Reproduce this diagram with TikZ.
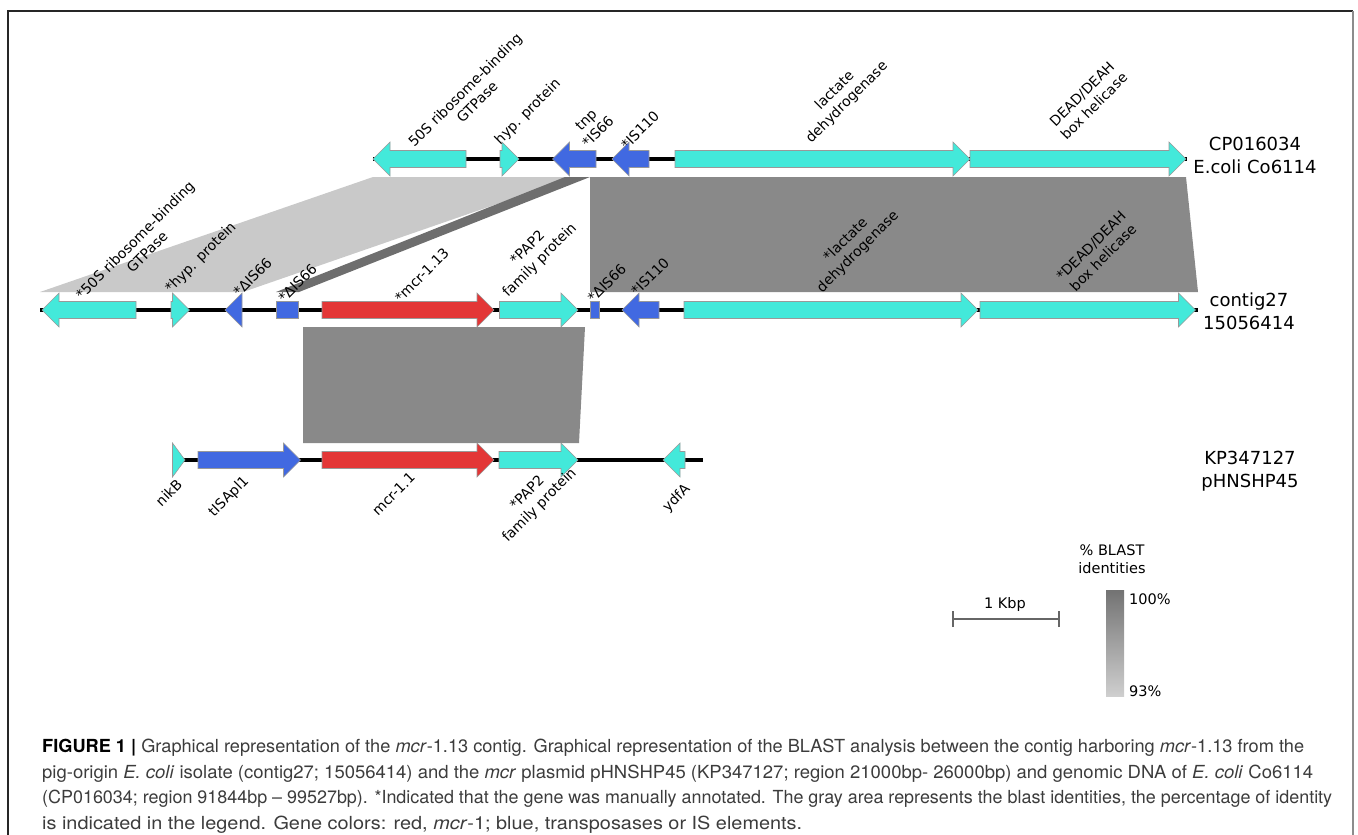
\documentclass[tikz,border=0pt]{standalone}
\usepackage{fontspec}
\usepackage{graphicx}
\newfontfamily\dv{DejaVu Sans}
\newfontfamily\capf{TeX Gyre Heros}
\definecolor{turq}{RGB}{67,233,218}
\definecolor{gblue}{RGB}{65,105,225}
\definecolor{gred}{RGB}{227,54,54}
\definecolor{glight}{RGB}{201,201,201}
\definecolor{gdark}{RGB}{110,110,110}
\definecolor{gmid}{RGB}{137,137,137}
\definecolor{captext}{RGB}{60,60,60}
\newsavebox\capbox
\newcommand\fitto[2]{\sbox\capbox{#2}\pgfmathsetmacro\fitfac{#1/\the\wd\capbox}\scalebox{\fitfac}[1]{\usebox\capbox}}
\newcommand\gR[4]{\pgfmathsetmacro\xb{max(#1,#2-17)}\filldraw[gene,fill=#4] (#1,#3-8.5) -- (\xb,#3-8.5) -- (\xb,#3-17) -- (#2,#3) -- (\xb,#3+17) -- (\xb,#3+8.5) -- (#1,#3+8.5) -- cycle;}
\newcommand\gL[4]{\pgfmathsetmacro\xb{min(#2,#1+17)}\filldraw[gene,fill=#4] (#2,#3-8.5) -- (\xb,#3-8.5) -- (\xb,#3-17) -- (#1,#3) -- (\xb,#3+17) -- (\xb,#3+8.5) -- (#2,#3+8.5) -- cycle;}
\newcommand\gB[4]{\filldraw[gene,fill=#4] (#1,#3-8.5) rectangle (#2,#3+8.5);}
\tikzset{
  gene/.style={draw=black!40, line width=0.6pt},
  track/.style={line width=4.5pt, black},
  lbl/.style={font=\dv\fontsize{14}{17}\selectfont, rotate=45, align=center, inner sep=0pt},
  rlbl/.style={font=\dv\fontsize{18}{23}\selectfont, align=center, inner sep=0pt},
  lgd/.style={font=\dv\fontsize{14.5}{18.5}\selectfont, align=center, inner sep=0pt},
  capt/.style={font=\capf\fontsize{18}{22}\selectfont, text=captext, inner sep=0pt, anchor=base west},
}
\begin{document}
\begin{tikzpicture}[x=1pt,y=-1pt]
\useasboundingbox (0,0) rectangle (1358,835);
% frame
\draw[line width=1.5pt, black!85] (8,835) -- (8,11) -- (1353,11);
\draw[line width=2.5pt, black!45] (1353,11) -- (1353,835);

% BLAST identity regions
\fill[glight] (373,177) -- (575,177) -- (243,292) -- (40,292) -- cycle;
\fill[gdark] (565,177) -- (590,177) -- (299,292) -- (276,292) -- cycle;
\fill[gmid] (590,177) -- (1186,177) -- (1198,292) -- (590,292) -- cycle;
\fill[gmid] (303,327) -- (585,327) -- (579,443) -- (303,443) -- cycle;

% tracks
\coordinate (t1a) at (373,159); \coordinate (t1b) at (1187,159);
\coordinate (t2a) at (40,310);  \coordinate (t2b) at (1198,310);
\coordinate (t3a) at (173,460); \coordinate (t3b) at (703,460);
\draw[track] (t1a) -- (t1b);
\draw[track] (t2a) -- (t2b);
\draw[track] (t3a) -- (t3b);

% top genes (CP016034)
\gL{373}{466}{159}{turq}
\gR{500}{519}{159}{turq}
\gL{552.5}{596}{159}{gblue}
\gL{612}{649}{159}{gblue}
\gR{675}{970}{159}{turq}
\gR{970}{1186}{159}{turq}

% middle genes (contig27)
\gL{42}{136}{310}{turq}
\gR{171}{189.5}{310}{turq}
\gL{225}{242}{310}{gblue}
\gB{276}{298}{310}{gblue}
\gR{322}{494}{310}{gred}
\gR{499.5}{578}{310}{turq}
\gB{590}{599}{310}{gblue}
\gL{622}{659}{310}{gblue}
\gR{684}{978}{310}{turq}
\gR{980}{1195.5}{310}{turq}

% bottom genes (KP347127)
\gR{172.5}{185}{460}{turq}
\gR{198}{300.5}{460}{gblue}
\gR{322}{494}{460}{gred}
\gR{499}{578}{460}{turq}
\gL{663}{685}{460}{turq}

% top labels
\node[lbl] (lt1) at (471,96) {50S ribosome-binding\\GTPase};
\node[lbl] (lt2) at (528,112) {hyp. protein};
\node[lbl] (lt3) at (592,126) {tnp\\*IS66};
\node[lbl] (lt4) at (640,130) {*IS110};
\node[lbl] (lt5) at (841,96.5) {lactate\\dehydrogenase};
\node[lbl] (lt6) at (1088,100) {DEAD/DEAH\\box helicase};
\node[rlbl] (rt) at (1255,155) {CP016034\\E.coli Co6114};

% middle labels
\node[lbl] (lm1) at (141,246) {*50S ribosome-binding\\GTPase};
\node[lbl] (lm2) at (201,258) {*hyp. protein};
\node[lbl] (lm3) at (252.5,277) {*ΔIS66};
\node[lbl] (lm4) at (297.5,283) {*ΔIS66};
\node[lbl] (lm5) at (421.7,275) {*mcr-1.13};
\node[lbl] (lm6) at (534,254.6) {*PAP2\\family protein};
\node[lbl] (lm7) at (606.7,283.3) {*ΔIS66};
\node[lbl] (lm8) at (650,276.7) {*IS110};
\node[lbl] (lm9) at (852,246) {*lactate\\dehydrogenase};
\node[lbl] (lm10) at (1097,251.7) {*DEAD/DEAH\\box helicase};
\node[rlbl] (rm) at (1249,311) {contig27\\15056414};

% bottom labels
\node[lbl] (lb1) at (168.7,492.5) {nikB};
\node[lbl] (lb2) at (229,496.7) {tISApl1};
\node[lbl] (lb3) at (393.5,494) {mcr-1.1};
\node[lbl] (lb4) at (533.7,499.6) {*PAP2\\family protein};
\node[lbl] (lb5) at (676.7,498.3) {ydfA};
\node[rlbl] (rb) at (1250,471) {KP347127\\pHNSHP45};

% legend
\node[lgd] (kbp) at (1005,604) {1 Kbp};
\coordinate (sba) at (953,619); \coordinate (sbb) at (1059,619);
\draw[line width=1.3pt, black!60] (sba) -- (sbb);
\draw[line width=1.3pt, black!60] ([yshift=-8pt]sba) -- ([yshift=8pt]sba);
\draw[line width=1.3pt, black!60] ([yshift=-8pt]sbb) -- ([yshift=8pt]sbb);
\node[lgd] (blast) at (1112,559) {\% BLAST\\identities};
\shade[top color=black!55, bottom color=black!19] (1106,590) rectangle (1124,696);
\node[lgd, anchor=west] (p100) at (1129,599) {100\%};
\node[lgd, anchor=west] (p93) at (1129,691) {93\%};

% caption
\node[capt] (c1) at (42,752) {\fitto{1262}{\textbf{\color{black}FIGURE 1 |} Graphical representation of the \textit{mcr}-1.13 contig. Graphical representation of the BLAST analysis between the contig harboring \textit{mcr}-1.13 from the}};
\node[capt] (c2) at (42,778) {\fitto{1271}{pig-origin \textit{E. coli} isolate (contig27; 15056414) and the \textit{mcr} plasmid pHNSHP45 (KP347127; region 21000bp- 26000bp) and genomic DNA of \textit{E. coli} Co6114}};
\node[capt] (c3) at (42,803) {\fitto{1290}{(CP016034; region 91844bp – 99527bp). *Indicated that the gene was manually annotated. The gray area represents the blast identities, the percentage of identity}};
\node[capt] (c4) at (42,829) {\fitto{760}{is indicated in the legend. Gene colors: red, \textit{mcr}-1; blue, transposases or IS elements.}};
\end{tikzpicture}
\end{document}
